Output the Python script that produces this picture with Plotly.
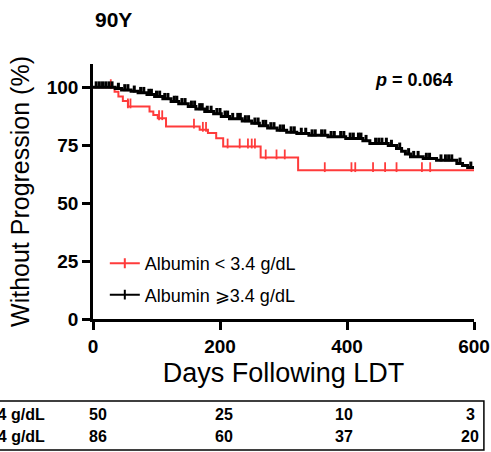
import numpy as np
import plotly.graph_objects as go

# ---- data ----
red_label = "Albumin < 3.4 g/dL"
black_label = "Albumin \u2a7e3.4 g/dL"

red_days = [0, 34, 40, 47, 55, 89, 95, 102, 115, 168, 181, 194, 205, 264, 323, 600]
red_surv = [100, 98, 96, 94, 91.7, 89.5, 88, 86.6, 83.0, 81.6, 80.2, 78, 74.4, 69.7, 64.2, 64.2]
red_cens = [28, 55, 59, 104, 109, 159, 173, 178, 212, 231, 244, 250, 255, 272, 289, 302,
            365, 407, 413, 441, 460, 478, 518, 531]

black_days = [0, 35, 45, 60, 71, 85, 97, 110, 123, 135, 150, 162, 176, 190, 202, 215, 235,
              250, 262, 275, 290, 305, 321, 340, 370, 398, 425, 436, 465, 478, 486, 492,
              500, 520, 541, 573, 582, 590, 600]
black_surv = [100, 99.4, 98.8, 98.2, 97.6, 96.8, 96.0, 95.0, 93.8, 92.8, 91.7, 90.6, 89.5,
              88.5, 87.4, 86.4, 85.4, 84.4, 83.4, 82.4, 81.4, 80.6, 80.0, 79.3, 78.6, 77.9,
              76.9, 75.7, 74.8, 73.6, 72.4, 71.2, 70.0, 69.2, 68.5, 67.1, 66.2, 65.4, 65.0]
black_cens = [5, 10, 15, 20, 25, 30, 40, 50, 55, 65, 75, 80, 88, 92, 100, 105, 113, 118, 128,
              132, 140, 145, 155, 160, 168, 172, 180, 186, 195, 200, 208, 212, 220, 228, 232,
              240, 245, 255, 260, 268, 272, 280, 285, 295, 300, 312, 317, 328, 335, 345, 350,
              360, 365, 375, 380, 390, 395, 405, 410, 418, 422, 430, 445, 450, 455, 462, 470,
              483, 497, 505, 512, 525, 530, 548, 555, 560, 565, 578, 595]

x_ticks = [0, 200, 400, 600]
y_ticks = [0, 25, 50, 75, 100]
risk_red = [50, 25, 10, 3]
risk_black = [86, 60, 37, 20]
risk_shift = [5, 4, -3, -4]

title_text = "90Y"
p_text = "<i>p</i> = 0.064"
x_title = "Days Following LDT"
y_title = "Without Progression (%)"

RED = "#ff3b3b"
BLACK = "#000000"
FONT = "Liberation Sans, Arial, sans-serif"


def step_at(days, surv, t):
    d = np.asarray(days)
    s = np.asarray(surv)
    idx = np.searchsorted(d, t, side="right") - 1
    return s[idx]


fig = go.Figure()

for days, surv, cens, col, lw, msz, mw, off, name in [
    (red_days, red_surv, red_cens, RED, 2, 7, 1.8, 1.3, red_label),
    (black_days, black_surv, black_cens, BLACK, 3, 5, 3, 1.0, black_label),
]:
    fig.add_trace(go.Scatter(x=days, y=surv, mode="lines", line=dict(color=col, width=lw, shape="hv"),
                             showlegend=False, hoverinfo="skip"))
    cy = step_at(days, surv, np.asarray(cens)) + off
    fig.add_trace(go.Scatter(x=cens, y=cy, mode="markers",
                             marker=dict(symbol="line-ns", size=msz, line=dict(color=col, width=mw)),
                             showlegend=False, hoverinfo="skip"))
    # legend entry
    fig.add_trace(go.Scatter(x=[None], y=[None], mode="lines+markers", name=name, legendgroup=name,
                             line=dict(color=col, width=2),
                             marker=dict(symbol="line-ns", size=7, line=dict(color=col, width=2))))

# risk table
annos = []
for lbl, vals, yy in [(red_label, risk_red, -0.376), (black_label, risk_black, -0.459)]:
    annos.append(dict(x=-0.12, y=yy, xref="paper", yref="paper", text="<b>" + lbl + "</b>",
                      showarrow=False, xanchor="right", yanchor="middle",
                      font=dict(family=FONT, size=16, color="black")))
    for xt, v, sh in zip(x_ticks, vals, risk_shift):
        annos.append(dict(x=xt, y=yy, xref="x", yref="paper", text="<b>%d</b>" % v, showarrow=False,
                          xanchor="center", yanchor="middle", xshift=sh,
                          font=dict(family=FONT, size=16, color="black")))

annos.append(dict(x=0.95, y=0.937, xref="paper", yref="paper", text="<b>" + p_text + "</b>",
                  showarrow=False, xanchor="right", yanchor="middle",
                  font=dict(family=FONT, size=18, color="black")))

fig.update_layout(
    width=491, height=452,
    margin=dict(l=93, r=17, t=64, b=133, autoexpand=False),
    paper_bgcolor="white", plot_bgcolor="white",
    font=dict(family=FONT, color="black"),
    title=dict(text="<b>" + title_text + "</b>", x=95 / 491, xanchor="left", y=1 - 20 / 452,
               yanchor="middle", font=dict(family=FONT, size=21, color="black")),
    legend=dict(x=0.031, y=0.29, xanchor="left", yanchor="top", bgcolor="rgba(0,0,0,0)",
                font=dict(family=FONT, size=18, color="black"), tracegroupgap=5),
    annotations=annos,
    shapes=[dict(type="rect", xref="paper", yref="paper", x0=-0.4, x1=1.026, y0=-0.5137, y1=-0.3216,
                 line=dict(color="black", width=1.5))],
)

fig.update_xaxes(range=[0, 600], tickvals=x_ticks, ticktext=["<b>%d</b>" % t for t in x_ticks],
                 showline=True, linecolor="black", linewidth=2.5, ticks="outside", ticklen=8,
                 tickwidth=2.5, tickcolor="black", showgrid=False, zeroline=False, automargin=False,
                 tickfont=dict(family=FONT, size=19, color="black"),
                 title=dict(text=x_title, font=dict(family=FONT, size=27, color="black"), standoff=8))
fig.update_yaxes(range=[0, 110], tickvals=y_ticks, ticktext=["<b>%d</b>" % t for t in y_ticks],
                 showline=True, linecolor="black", linewidth=2.5, ticks="outside", ticklen=8,
                 tickwidth=2.5, tickcolor="black", showgrid=False, zeroline=False, automargin=False,
                 tickfont=dict(family=FONT, size=19, color="black"),
                 title=dict(text=y_title, font=dict(family=FONT, size=25, color="black"), standoff=10))

fig.write_html("out.html")
